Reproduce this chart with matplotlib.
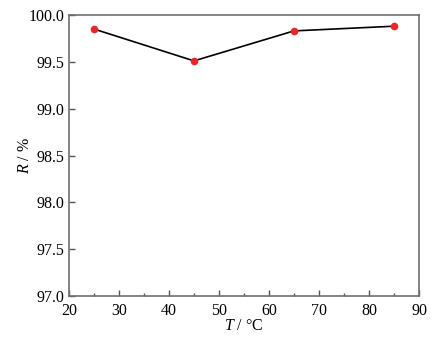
import matplotlib
matplotlib.use("Agg")
import matplotlib.pyplot as plt
from matplotlib.ticker import MultipleLocator

# Data
temperature = [25, 45, 65, 85]   # T / °C
removal = [99.85, 99.51, 99.83, 99.88]  # R / %

plt.rcParams['font.family'] = ['Liberation Serif', 'DejaVu Serif']
plt.rcParams['mathtext.fontset'] = 'custom'
plt.rcParams['mathtext.it'] = 'Liberation Serif:italic'
plt.rcParams['mathtext.rm'] = 'Liberation Serif'

fig = plt.figure(figsize=(4.42, 3.40), dpi=100)
ax = fig.add_axes([0.156, 0.129, 0.792, 0.827])

ax.plot(temperature, removal, color='black', linewidth=1.2, zorder=2)
ax.plot(temperature, removal, linestyle='none', marker='o', markersize=5.5,
        color='#e8262b', markeredgewidth=0, zorder=3)

ax.set_xlim(20, 90)
ax.set_ylim(97.0, 100.0)
ax.xaxis.set_major_locator(MultipleLocator(10))
ax.xaxis.set_minor_locator(MultipleLocator(5))
ax.yaxis.set_major_locator(MultipleLocator(0.5))
ax.yaxis.set_major_formatter(plt.FormatStrFormatter('%.1f'))

ax.tick_params(axis='both', which='both', direction='in', labelsize=11.5,
               color='#555555')
ax.tick_params(axis='both', which='major', length=4, width=1)
ax.tick_params(axis='x', which='minor', length=2.5, width=1)
ax.tick_params(axis='x', which='both', pad=5)
ax.tick_params(axis='y', which='both', pad=3)

for spine in ax.spines.values():
    spine.set_color('#707070')
    spine.set_linewidth(1.2)

ax.set_xlabel(r'$T$ / °C', fontsize=11.5, labelpad=-1)
ax.set_ylabel(r'$R$ / %', fontsize=11.5, labelpad=-3)

fig.savefig('out.png', dpi=100)
